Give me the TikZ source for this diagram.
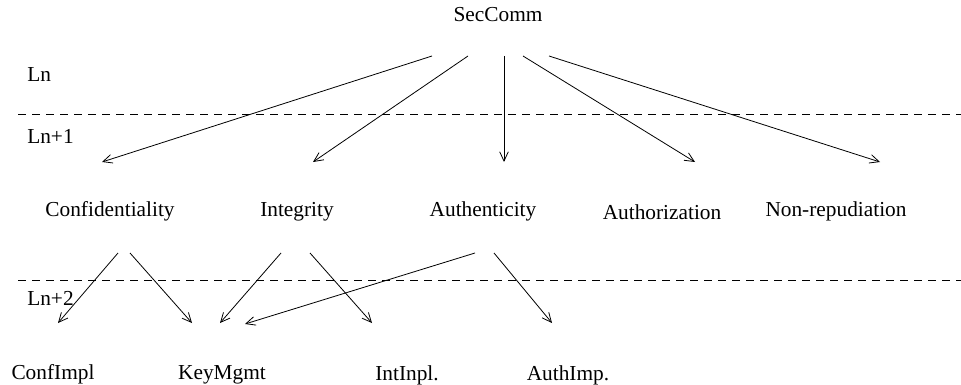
\documentclass[tikz,border=0pt]{standalone}
\usepackage{fontspec}
\setmainfont{Liberation Serif}
\usetikzlibrary{arrows.meta}
\tikzset{
  lbl/.style={anchor=base, inner sep=0pt, font=\fontsize{16}{19}\selectfont},
  lvl/.style={lbl, anchor=base west},
  lvlline/.style={dash pattern=on 6pt off 4.5pt, line width=0.6pt},
  arr/.style={-{Straight Barb[length=7pt,width=6.5pt]}, line width=0.6pt}
}
\begin{document}
\begin{tikzpicture}[x=0.75pt, y=-0.75pt]
    \useasboundingbox (0,0) rectangle (961,385);
    % level labels and separators
    \node[lvl] (ln0) at (27,82) {Ln};
    \node[lvl] (ln1) at (27,143) {Ln+1};
    \node[lvl] (ln2) at (27,305) {Ln+2};
    \coordinate (sepA1) at (18,114);
    \coordinate (sepA2) at (961,114);
    \coordinate (sepB1) at (18,280);
    \coordinate (sepB2) at (961,280);
    \draw[lvlline] (sepA1) -- (sepA2);
    \draw[lvlline] (sepB1) -- (sepB2);
    % nodes
    \node[lbl] (sec) at (498,22) {SecComm};
    \node[lbl] (conf) at (110,216) {Confidentiality};
    \node[lbl] (integ) at (297,216) {Integrity};
    \node[lbl] (authc) at (483,216) {Authenticity};
    \node[lbl] (authz) at (662,219) {Authorization};
    \node[lbl] (nonrep) at (836,216) {Non-repudiation};
    \node[lbl] (confimpl) at (53,379) {ConfImpl};
    \node[lbl] (keymgmt) at (222,379) {KeyMgmt};
    \node[lbl] (intimpl) at (407,380) {IntInpl.};
    \node[lbl] (authimp) at (568,380) {AuthImp.};
    % arrow ends
    \coordinate (sec1) at (432,56);
    \coordinate (sec2) at (468,56);
    \coordinate (sec3) at (504,56);
    \coordinate (sec4) at (523,56);
    \coordinate (sec5) at (549,56);
    \coordinate (confIn) at (102,162);
    \coordinate (integIn) at (313,162);
    \coordinate (authcIn) at (504,162);
    \coordinate (authzIn) at (695,162);
    \coordinate (nonrepIn) at (880,162);
    \coordinate (conf1) at (118,253);
    \coordinate (conf2) at (130,253);
    \coordinate (integ1) at (281,253);
    \coordinate (integ2) at (310,253);
    \coordinate (authc1) at (475,253);
    \coordinate (authc2) at (494,253);
    \coordinate (confimplIn) at (58,323);
    \coordinate (keyIn1) at (192,323);
    \coordinate (keyIn2) at (220,323);
    \coordinate (keyIn3) at (245,324);
    \coordinate (intimplIn) at (372,323);
    \coordinate (authimpIn) at (552,323);
    % top level
    \draw[arr] (sec1) -- (confIn);
    \draw[arr] (sec2) -- (integIn);
    \draw[arr] (sec3) -- (authcIn);
    \draw[arr] (sec4) -- (authzIn);
    \draw[arr] (sec5) -- (nonrepIn);
    % second level
    \draw[arr] (conf1) -- (confimplIn);
    \draw[arr] (conf2) -- (keyIn1);
    \draw[arr] (integ1) -- (keyIn2);
    \draw[arr] (integ2) -- (intimplIn);
    \draw[arr] (authc1) -- (keyIn3);
    \draw[arr] (authc2) -- (authimpIn);
\end{tikzpicture}
\end{document}
